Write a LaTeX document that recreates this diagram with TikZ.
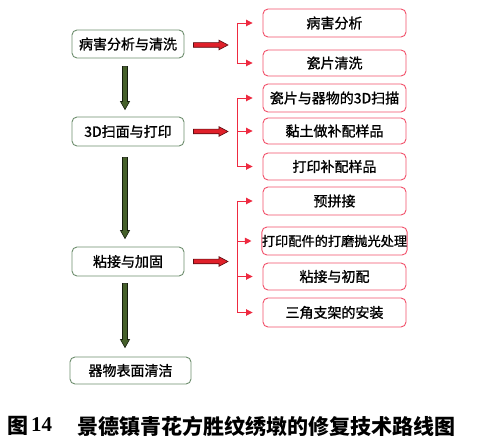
\documentclass[tikz,border=0pt]{standalone}
\usepackage{fontspec}
\setmainfont{Liberation Serif}
\newfontfamily\cjk{Noto Sans CJK SC}
\newfontfamily\cjkm[FakeBold=1.2]{Noto Sans CJK SC}
\usetikzlibrary{arrows.meta,calc}
\definecolor{boxgreen}{HTML}{6E8E6E}
\definecolor{boxred}{HTML}{F2506A}
\definecolor{linered}{HTML}{EE2A40}
\definecolor{arrowgreen}{HTML}{45602A}
\definecolor{arrowred}{HTML}{E0202A}
\newcommand\vblk[2]{%
\filldraw[draw=black!70!arrowgreen, fill=arrowgreen, line width=0.6pt, line join=miter]
 ($(#1)+(-2.5,0)$) -- ($(#2)+(-2.5,-8)$) -- ($(#2)+(-4.5,-8)$) -- (#2) --
 ($(#2)+(4.5,-8)$) -- ($(#2)+(2.5,-8)$) -- ($(#1)+(2.5,0)$) -- cycle;}
\newcommand\hblk[2]{%
\filldraw[draw=black!60!arrowred, fill=arrowred, line width=0.6pt, line join=miter]
 ($(#1)+(0,-2.3)$) -- ($(#2)+(-9,-2.3)$) -- ($(#2)+(-9,-4.8)$) -- (#2) --
 ($(#2)+(-9,4.8)$) -- ($(#2)+(-9,2.3)$) -- ($(#1)+(0,2.3)$) -- cycle;}
\begin{document}
\begin{tikzpicture}[x=1pt,y=-1pt,
 lbox/.style={draw=boxgreen, line width=0.9pt, rounded corners=5pt, minimum width=112pt, minimum height=28pt, inner sep=0pt, font=\cjkm\fontsize{14}{14}\selectfont},
 rbox/.style={draw=boxred, line width=0.9pt, rounded corners=5pt, minimum width=143pt, minimum height=27pt, inner sep=0pt, font=\cjkm\fontsize{14}{14}\selectfont},
 bline/.style={draw=linered, line width=0.9pt},
 btip/.style={bline, -{Triangle[length=6.5pt,width=6.5pt]}},
 captxt/.style={anchor=west, inner sep=0pt, font=\cjk\bfseries\fontsize{21}{21}\selectfont},
]
\useasboundingbox (0,0) rectangle (479,443);
\fill[white] (0,0) rectangle (479,443);

% left column
\node[lbox] (b1) at (128,44) {病害分析与清洗};
\node[lbox, minimum height=29pt] (b2) at (128,131.5) {3D扫面与打印};
\node[lbox, minimum height=29pt] (b3) at (128,261.5) {粘接与加固};
\node[lbox, minimum width=121pt, minimum height=27pt] (b4) at (130.5,370.5) {器物表面清洁};

% right column
\node[rbox, minimum height=28pt] (r1) at (334.5,23) {病害分析};
\node[rbox, minimum height=26pt] (r2) at (334.5,63) {瓷片清洗};
\node[rbox, minimum height=28pt] (r3) at (334.5,98) {瓷片与器物的3D扫描};
\node[rbox, minimum height=26pt] (r4) at (334.5,131) {黏土做补配样品};
\node[rbox] (r5) at (334.5,166.5) {打印补配样品};
\node[rbox, minimum height=28pt] (r6) at (334.5,201) {预拼接};
\node[rbox, minimum height=28pt, font=\cjkm\fontsize{13.2}{13.2}\selectfont] (r7) at (334.5,241) {打印配件的打磨抛光处理};
\node[rbox] (r8) at (334.5,276.5) {粘接与初配};
\node[rbox, minimum height=29pt] (r9) at (334.5,312.5) {三角支架的安装};

% green down arrows
\coordinate (g1s) at ($(b1.south)+(-3,8)$);
\coordinate (g1e) at ($(b2.north)+(-3,-7)$);
\coordinate (g2s) at ($(b2.south)+(-3,11)$);
\coordinate (g2e) at ($(b3.north)+(-3,-8)$);
\coordinate (g3s) at ($(b3.south)+(-3,7)$);
\coordinate (g3e) at ($(b4.north)+(-5.5,-9)$);
\vblk{g1s}{g1e}
\vblk{g2s}{g2e}
\vblk{g3s}{g3e}

% brackets
\coordinate (bx) at (237,0);
\coordinate (a1s) at ($(b1.east)+(9,1)$);
\coordinate (a1e) at ($(bx |- b1.east)+(-9,1)$);
\coordinate (a2s) at ($(b2.east)+(9,0)$);
\coordinate (a2e) at ($(bx |- b2.east)+(-9,0)$);
\coordinate (a3s) at ($(b3.east)+(9,0)$);
\coordinate (a3e) at ($(bx |- b3.east)+(-9,0)$);
\hblk{a1s}{a1e}
\hblk{a2s}{a2e}
\hblk{a3s}{a3e}

\draw[bline] (bx |- r1.west) -- (bx |- r2.west);
\draw[bline] (bx |- r3.west) -- (bx |- r5.west);
\draw[bline] (bx |- r6.west) -- (bx |- r9.west);
\foreach \r in {r1,r2,r3,r4,r5,r6,r7,r8,r9}{
  \draw[btip] (bx |- \r.west) -- ($(\r.west)+(-10,0)$);
}

% caption
\node[captxt] (c1) at (7,426) {图};
\node[captxt, font=\bfseries\fontsize{21}{21}\selectfont] (c2) at (31,425) {14};
\node[captxt] (c3) at (77,426) {景德镇青花方胜纹绣墩的修复技术路线图};
\end{tikzpicture}
\end{document}
